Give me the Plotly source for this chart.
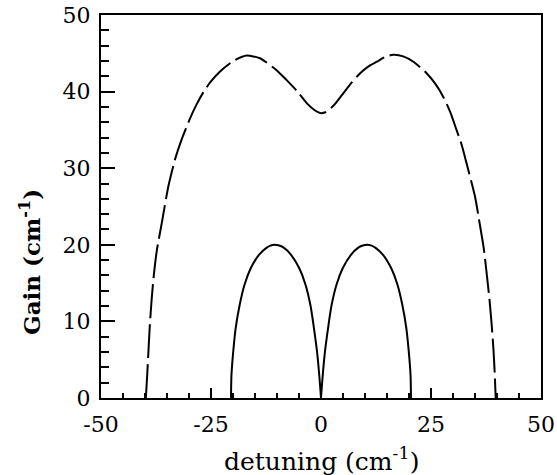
import plotly.graph_objects as go

# Dashed curve (broad gain profile)
dash_x = [-39.8, -39.5, -39.2, -38.9, -38.5, -38.0, -37.3, -36.2, -34.7, -33.2, -31.7, -29.8,
          -28.3, -26.75, -25.2, -23.0, -19.9, -16.9, -13.9, -10.1, -7.8, -5.5, -3.25, -1.5, -0.2,
          1.0, 2.0, 3.5, 5.1, 7.0, 8.9, 10.8, 12.7, 14.5, 16.4, 18.7, 21.0, 24.0, 26.0,
          27.8, 29.4, 30.8, 32.0, 33.1, 35.0, 36.0, 37.0, 37.7, 38.3, 38.8, 39.2, 39.5, 39.7]
dash_y = [0.0, 3.0, 6.3, 9.5, 12.8, 16.0, 19.3, 22.8, 27.6, 31.1, 33.7, 36.45,
          38.3, 39.9, 41.2, 42.6, 44.0, 44.7, 44.35, 42.8, 41.5, 40.1, 38.5, 37.6, 37.2,
          37.3, 37.7, 38.6, 39.8, 41.2, 42.4, 43.3, 43.9, 44.5, 44.8, 44.6, 43.9, 42.4, 41.0,
          39.3, 37.3, 35.0, 33.0, 30.6, 26.3, 23.0, 19.5, 16.0, 12.8, 9.5, 6.3, 3.0, 0.0]

# Solid curves (two lobes)
left_x = [-20.45, -20.35, -19.95, -19.4, -18.5, -17.4, -16.0, -14.1, -12.4, -11.5, -10.5,
          -9.5, -8.4, -6.8, -4.9, -3.5, -2.4, -1.6, -0.9, -0.4, 0.0]
left_y = [0.0, 3.0, 6.05, 9.1, 12.1, 14.75, 16.9, 18.7, 19.6, 19.9, 20.0,
          19.9, 19.6, 18.7, 16.9, 14.75, 12.1, 9.1, 6.05, 3.0, 0.0]
right_x = [0.0, 0.4, 0.9, 1.6, 2.4, 3.5, 4.9, 6.8, 8.4, 9.5, 10.5,
           11.5, 12.4, 14.1, 16.0, 17.4, 18.5, 19.4, 19.95, 20.35, 20.45]
right_y = [0.0, 3.0, 6.05, 9.1, 12.1, 14.75, 16.9, 18.7, 19.6, 19.9, 20.0,
           19.9, 19.6, 18.7, 16.9, 14.75, 12.1, 9.1, 6.05, 3.0, 0.0]

x_ticks = [-50, -25, 0, 25, 50]
y_ticks = [0, 10, 20, 30, 40, 50]

FONT = "DejaVu Serif"

fig = go.Figure()
fig.add_trace(go.Scatter(x=dash_x, y=dash_y, mode="lines",
                         line=dict(color="black", width=2, dash="34px,6px", shape="spline", smoothing=0.6),
                         showlegend=False, hoverinfo="skip"))
for lx, ly in ((left_x, left_y), (right_x, right_y)):
    fig.add_trace(go.Scatter(x=lx, y=ly, mode="lines",
                             line=dict(color="black", width=2, shape="spline", smoothing=0.8),
                             showlegend=False, hoverinfo="skip"))

fig.update_layout(
    width=557, height=475,
    margin=dict(l=101, r=16, t=15, b=77, autoexpand=False),
    paper_bgcolor="white", plot_bgcolor="white",
    font=dict(family=FONT, color="black", size=22),
    xaxis=dict(range=[-50, 50], tickvals=x_ticks, ticktext=[str(v) for v in x_ticks],
               ticks="inside", ticklen=10, tickwidth=2, tickcolor="black",
               minor=dict(dtick=5, ticks="inside", ticklen=5, tickwidth=2, tickcolor="black"),
               showline=True, linecolor="black", linewidth=2, mirror=True,
               showgrid=False, zeroline=False, automargin=False, ticklabelstandoff=6,
               tickfont=dict(family=FONT, size=22)),
    yaxis=dict(range=[0, 50], tickvals=y_ticks, ticktext=[str(v) for v in y_ticks],
               ticks="inside", ticklen=14, tickwidth=2, tickcolor="black",
               minor=dict(dtick=2, ticks="inside", ticklen=8, tickwidth=2, tickcolor="black"),
               showline=True, linecolor="black", linewidth=2, mirror=True,
               showgrid=False, zeroline=False, automargin=False, ticklabelstandoff=4,
               tickfont=dict(family=FONT, size=22)),
    annotations=[
        dict(text="detuning (cm<sup>-1</sup>)", xref="paper", yref="paper",
             x=(321 - 101) / 440, y=(398 - 459) / 383, xanchor="center", yanchor="middle",
             showarrow=False, font=dict(family=FONT, size=25)),
        dict(text="<b>Gain (cm<sup>-1</sup>)</b>", xref="paper", yref="paper",
             x=(30 - 101) / 440, y=(398 - 262) / 383, xanchor="center", yanchor="middle",
             textangle=-90, showarrow=False, font=dict(family=FONT, size=23)),
    ],
)

fig.write_html("out.html")
